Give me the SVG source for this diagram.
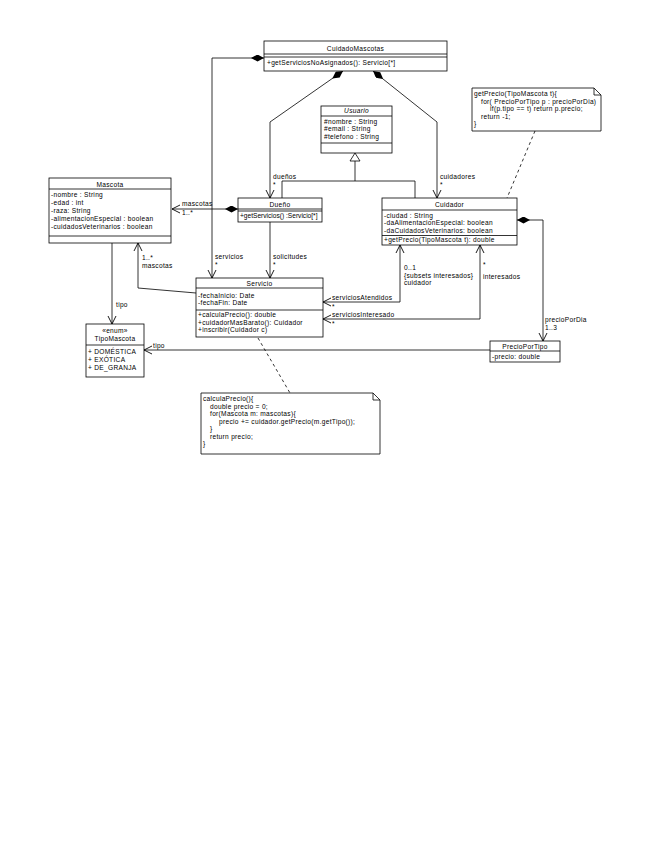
<svg xmlns="http://www.w3.org/2000/svg" width="655" height="848" viewBox="0 0 655 848">
<style>
text{font-family:"Liberation Sans",Arial,sans-serif;font-size:6.6px;letter-spacing:0.3px;fill:#000}
.c{text-anchor:middle}
.it{font-style:italic}
.tight{letter-spacing:0px}
.box{fill:#fff;stroke:#000;stroke-width:0.8}
.ln{stroke:#000;stroke-width:0.8;fill:none}
.con{stroke:#000;stroke-width:0.8;fill:none}
.dash{stroke:#000;stroke-width:0.8;fill:none;stroke-dasharray:3,3}
</style>
<defs>
<marker id="arr" markerWidth="10" markerHeight="10" refX="8" refY="4" orient="auto-start-reverse" markerUnits="userSpaceOnUse" viewBox="0 0 10 8">
<path d="M0,0 L8,4 L0,8" fill="none" stroke="#000" stroke-width="0.9"/>
</marker>
<marker id="dia" markerWidth="13" markerHeight="7" refX="0" refY="3.5" orient="auto" markerUnits="userSpaceOnUse" viewBox="0 0 13 7">
<path d="M0,3.5 L6.5,0 L13,3.5 L6.5,7 z" fill="#000"/>
</marker>
</defs>
<rect width="655" height="848" fill="#fff"/>

<g id="connectors">
<path class="con" d="M264,58 H212 V278" marker-start="url(#dia)" marker-end="url(#arr)"/>
<path class="con" d="M343,71 L270,122 V198" marker-start="url(#dia)" marker-end="url(#arr)"/>
<path class="con" d="M373,71 L437,122 V198" marker-start="url(#dia)" marker-end="url(#arr)"/>
<path class="con" d="M238,209 H172" marker-start="url(#dia)" marker-end="url(#arr)"/>
<path class="con" d="M355,161 V181 M282,198 V181 H415 V198"/>
<polygon points="355,153 350,161 360,161" fill="#fff" stroke="#000" stroke-width="0.8"/>
<path class="con" d="M270,222 V278" marker-end="url(#arr)"/>
<path class="con" d="M196,293 L138,288 V243" marker-end="url(#arr)"/>
<path class="con" d="M112,243 V324" marker-end="url(#arr)"/>
<path class="con" d="M517,220 H543 V341" marker-start="url(#dia)" marker-end="url(#arr)"/>
<path class="con" d="M490,350 H144" marker-end="url(#arr)"/>
<path class="con" d="M323,302 H400 V245" marker-start="url(#arr)" marker-end="url(#arr)"/>
<path class="con" d="M323,319 H480 V245" marker-start="url(#arr)" marker-end="url(#arr)"/>
<path class="dash" d="M258,338 L290,393"/>
<path class="dash" d="M535,131 L507,198"/>
<text x="215" y="259">servicios</text><text x="215" y="267">*</text>
<text x="273" y="179">dueños</text><text x="273" y="187">*</text>
<text x="440" y="179">cuidadores</text><text x="440" y="187">*</text>
<text x="182" y="206">mascotas</text><text x="182" y="215">1..*</text>
<text x="273" y="259">solicitudes</text><text x="273" y="267">*</text>
<text x="142" y="260">1..*</text><text x="142" y="268">mascotas</text>
<text x="116" y="307">tipo</text>
<text x="153" y="348">tipo</text>
<text x="545" y="322">precioPorDia</text><text x="545" y="330">1..3</text>
<text x="332" y="299.5">serviciosAtendidos</text><text x="332" y="309">*</text>
<text x="332" y="316.5">serviciosInteresado</text><text x="332" y="326">*</text>
<text x="404" y="270">0..1</text><text x="404" y="277.5">{subsets interesados}</text><text x="404" y="285">cuidador</text>
<text x="483" y="267">*</text><text x="483" y="279">interesados</text>
</g>

<g id="CuidadoMascotas">
<rect class="box" x="264" y="41" width="183" height="30"/>
<path class="ln" d="M264,54 H447 M264,57 H447"/>
<text class="c" x="355.5" y="50.5">CuidadoMascotas</text>
<text x="267" y="65">+getServiciosNoAsignados(): Servicio[*]</text>
</g>

<g id="Usuario">
<rect class="box" x="321" y="106" width="71" height="47"/>
<path class="ln" d="M321,116 H392 M321,143 H392"/>
<text class="c it" x="356.5" y="113">Usuario</text>
<text x="324" y="123.5">#nombre : String</text>
<text x="324" y="131">#email : String</text>
<text x="324" y="138.5">#telefono : String</text>
</g>

<g id="Mascota">
<rect class="box" x="49" y="178" width="122" height="65"/>
<path class="ln" d="M49,189 H171 M49,236 H171"/>
<text class="c" x="110" y="186.5">Mascota</text>
<text x="51" y="197">-nombre : String</text>
<text x="51" y="205">-edad : int</text>
<text x="51" y="213">-raza: String</text>
<text x="51" y="221">-alimentacionEspecial : boolean</text>
<text x="51" y="229">-cuidadosVeterinarios : boolean</text>
</g>

<g id="Dueno">
<rect class="box" x="238" y="198" width="84" height="24"/>
<path class="ln" d="M238,209 H322 M238,211 H322"/>
<text class="c" x="280" y="206.5">Dueño</text>
<text class="tight" x="240" y="218">+getServicios() :Servicio[*]</text>
</g>

<g id="Cuidador">
<rect class="box" x="382" y="198" width="135" height="47"/>
<path class="ln" d="M382,210 H517 M382,235.5 H517"/>
<text class="c" x="449.5" y="206.5">Cuidador</text>
<text x="384" y="217.5">-ciudad : String</text>
<text x="384" y="225">-daAlimentacionEspecial: boolean</text>
<text x="384" y="232.5">-daCuidadosVeterinarios: boolean</text>
<text x="384" y="242">+getPrecio(TipoMascota t): double</text>
</g>

<g id="Servicio">
<rect class="box" x="196" y="278" width="127" height="59"/>
<path class="ln" d="M196,288 H323 M196,310 H323"/>
<text class="c" x="259.5" y="285.5">Servicio</text>
<text x="198" y="297.5">-fechaInicio: Date</text>
<text x="198" y="305">-fechaFin: Date</text>
<text x="198" y="317">+calculaPrecio(): double</text>
<text x="198" y="324.5">+cuidadorMasBarato(): Cuidador</text>
<text x="198" y="332">+inscribir(Cuidador c)</text>
</g>

<g id="TipoMascota">
<rect class="box" x="86" y="324" width="58" height="53"/>
<path class="ln" d="M86,345 H144"/>
<text class="c" x="115" y="333">«enum»</text>
<text class="c" x="115" y="341">TipoMascota</text>
<text x="88" y="354">+ DOMÉSTICA</text>
<text x="88" y="362">+ EXÓTICA</text>
<text x="88" y="370">+ DE_GRANJA</text>
</g>

<g id="PrecioPorTipo">
<rect class="box" x="490" y="341" width="70" height="21"/>
<path class="ln" d="M490,351 H560"/>
<text class="c" x="525" y="348.5">PrecioPorTipo</text>
<text x="492" y="358.5">-precio: double</text>
</g>

<g id="NotaGetPrecio">
<path class="box" d="M472,88 H594 L601,95 V131 H472 Z"/>
<path class="ln" d="M594,88 V95 H601"/>
<text x="474" y="96">getPrecio(TipoMascota t){</text>
<text x="481" y="103.5">for( PrecioPorTipo p : precioPorDia)</text>
<text x="490" y="111">if(p.tipo == t) return p.precio;</text>
<text x="481" y="118.5">return -1;</text>
<text x="474" y="126">}</text>
</g>

<g id="NotaCalculaPrecio">
<path class="box" d="M201,393 H373 L380,400 V454 H201 Z"/>
<path class="ln" d="M373,393 V400 H380"/>
<text x="203" y="401">calculaPrecio(){</text>
<text x="210" y="408.5">double precio = 0;</text>
<text x="210" y="416">for(Mascota m: mascotas){</text>
<text x="219" y="423.5">precio += cuidador.getPrecio(m.getTipo());</text>
<text x="210" y="431">}</text>
<text x="210" y="438.5">return precio;</text>
<text x="203" y="446">}</text>
</g>
</svg>
